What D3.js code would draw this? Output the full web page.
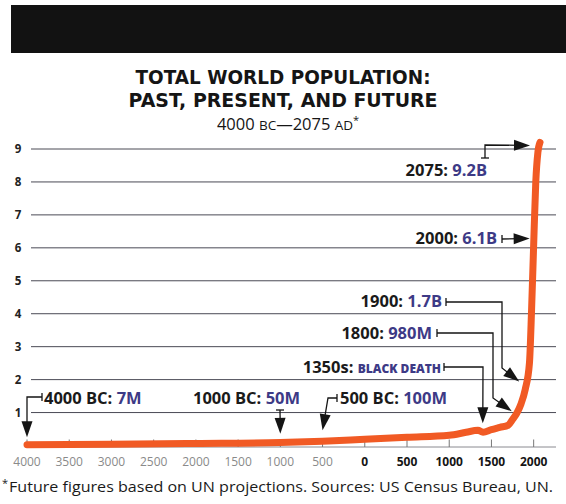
<!DOCTYPE html>
<html>
<head>
<meta charset="utf-8">
<script src="https://cdn.jsdelivr.net/npm/d3@7"></script>
<style>
  body { margin: 0; background: #fff; }
  svg { display: block; font-family: "Open Sans", "Noto Sans", sans-serif; }
</style>
</head>
<body>
<script>
var years  = [-4000, -3000, -2000, -1000, -500, 0, 500, 1000, 1200, 1340, 1400, 1500, 1600, 1700, 1750, 1800, 1850, 1900, 1950, 1975, 2000, 2025, 2050, 2075];
var pop    = [0.02, 0.035, 0.06, 0.09, 0.13, 0.19, 0.25, 0.31, 0.4, 0.46, 0.4, 0.48, 0.55, 0.62, 0.79, 0.98, 1.26, 1.7, 2.5, 4.1, 6.1, 8.0, 8.9, 9.2];

var yTicks = [1, 2, 3, 4, 5, 6, 7, 8, 9];
var xTicks = [-4000, -3500, -3000, -2500, -2000, -1500, -1000, -500, 0, 500, 1000, 1500, 2000];

// callouts
var noteYears  = [-4000, -1000, -500, 1350, 1800, 1900, 2000, 2075];
var notePop    = [0.007, 0.05, 0.1, 0.4, 0.98, 1.7, 6.1, 9.2];
var noteLabels = ["4000 BC:", "1000 BC:", "500 BC:", "1350s:", "1800:", "1900:", "2000:", "2075:"];
var noteValues = ["7M", "50M", "100M", "BLACK DEATH", "980M", "1.7B", "6.1B", "9.2B"];

var width = 566, height = 504;
var orange = "#f15a24", purple = "#3d3a86";

var svg = d3.select("body").append("svg")
    .attr("width", width)
    .attr("height", height);

// black band at the top
svg.append("rect")
   .attr("x", 11).attr("y", 5)
   .attr("width", width - 11).attr("height", 48)
   .attr("fill", "#121212");

// titles
svg.append("text")
   .attr("x", 283).attr("y", 84)
   .attr("text-anchor", "middle")
   .attr("font-family", "DejaVu Sans")
   .attr("font-size", 19).attr("font-weight", 700)
   .attr("fill", "#151515")
   .attr("textLength", 295).attr("lengthAdjust", "spacingAndGlyphs")
   .text("TOTAL WORLD POPULATION:");
svg.append("text")
   .attr("x", 283).attr("y", 107)
   .attr("text-anchor", "middle")
   .attr("font-family", "DejaVu Sans")
   .attr("font-size", 19).attr("font-weight", 700)
   .attr("fill", "#151515")
   .attr("textLength", 309).attr("lengthAdjust", "spacingAndGlyphs")
   .text("PAST, PRESENT, AND FUTURE");

var sub = svg.append("text")
   .attr("x", 288).attr("y", 130)
   .attr("text-anchor", "middle")
   .attr("font-size", 16.5).attr("font-weight", 400)
   .attr("fill", "#151515");
sub.append("tspan").text("4000 ");
sub.append("tspan").attr("font-size", 13.5).text("BC");
sub.append("tspan").text("\u20142075 ");
sub.append("tspan").attr("font-size", 13.5).text("AD");
sub.append("tspan").attr("font-size", 11).attr("dy", -6).text("*");

// scales
var x = d3.scaleLinear().domain([-4000, 2075]).range([27, 540]);
var y = d3.scaleLinear().domain([0, 9]).range([445.5, 149]);

// gridlines + y labels
svg.selectAll(".grid")
   .data(yTicks)
   .enter().append("line")
   .attr("x1", 31).attr("x2", 556)
   .attr("y1", function(d) { return y(d); })
   .attr("y2", function(d) { return y(d); })
   .attr("stroke", "#4a4a55").attr("stroke-width", 1);

svg.selectAll(".ylab")
   .data(yTicks)
   .enter().append("text")
   .attr("x", 18)
   .attr("y", function(d) { return y(d) + 4; })
   .attr("text-anchor", "middle")
   .attr("font-size", 11.5).attr("font-weight", 700)
   .attr("fill", "#222")
   .text(function(d) { return d; });

// base line and x ticks
svg.append("line")
   .attr("x1", 27).attr("x2", 556)
   .attr("y1", y(0) + 1.5).attr("y2", y(0) + 1.5)
   .attr("stroke", "#8a8a90").attr("stroke-width", 1);

svg.selectAll(".xtick")
   .data(xTicks)
   .enter().append("line")
   .attr("x1", function(d) { return x(d); })
   .attr("x2", function(d) { return x(d); })
   .attr("y1", y(0) - 6).attr("y2", y(0) + 1.5)
   .attr("stroke", "#777").attr("stroke-width", 1);

svg.selectAll(".xlab")
   .data(xTicks)
   .enter().append("text")
   .attr("x", function(d) { return x(d); })
   .attr("y", 466)
   .attr("text-anchor", "middle")
   .attr("font-size", 12)
   .attr("font-weight", function(d) { return d < 0 ? 400 : 700; })
   .attr("fill", function(d) { return d < 0 ? "#8a8a8a" : "#151515"; })
   .text(function(d) { return Math.abs(d); });

// population line
var line = d3.line()
    .x(function(d, i) { return x(years[i]); })
    .y(function(d) { return y(d); })
    .curve(d3.curveMonotoneX);

svg.append("path")
   .datum(pop)
   .attr("d", line)
   .attr("fill", "none")
   .attr("stroke", orange)
   .attr("stroke-width", 7)
   .attr("stroke-linecap", "round")
   .attr("stroke-linejoin", "round");

// callout layout: text position, anchor, connector route, arrow tip offset
var layout = [
  { tx: 44,  ty: 404, anchor: "start", route: [[42, 397], [27, 397]], cap: "v", tip: [0, -8] },
  { tx: 193, ty: 404, anchor: "start", route: [[280, 410]],           cap: "h", tip: [0, -10] },
  { tx: 340, ty: 404, anchor: "start", route: [[337, 398], [328, 398]], cap: "v", tip: [0, -12] },
  { tx: 441, ty: 373, anchor: "end",   route: [[444, 367], [483, 367]], cap: "v", tip: [4, -9] },
  { tx: 432, ty: 339, anchor: "end",   route: [[437, 333], [493, 333], [493, 398]], cap: "v", tip: [-5, -2] },
  { tx: 442, ty: 307, anchor: "end",   route: [[446, 302], [502, 302], [502, 368]], cap: "v", tip: [-6, -8] },
  { tx: 497, ty: 244, anchor: "end",   route: [[502, 239]],               cap: "v", tip: [-4, -6] },
  { tx: 487, ty: 176, anchor: "end",   route: [[485, 158], [485, 145]], cap: "h", tip: [-10, 3] }
];

function arrowHead(tip, from) {
  var ang = Math.atan2(tip[1] - from[1], tip[0] - from[0]);
  var len = 16, half = 5.5;
  var bx = tip[0] - len * Math.cos(ang), by = tip[1] - len * Math.sin(ang);
  var px = -Math.sin(ang) * half, py = Math.cos(ang) * half;
  return "M" + tip[0] + "," + tip[1] +
         "L" + (bx + px) + "," + (by + py) +
         "L" + (bx - px) + "," + (by - py) + "Z";
}

noteYears.forEach(function(yr, i) {
  var L = layout[i];
  var tip = [x(yr) + L.tip[0], y(notePop[i]) + L.tip[1]];
  var pts = L.route.concat([tip]);

  // shorten the last segment so the line ends inside the head
  var last = pts[pts.length - 2];
  var ang = Math.atan2(tip[1] - last[1], tip[0] - last[0]);
  var linePts = pts.slice(0, -1).concat([[tip[0] - 10 * Math.cos(ang), tip[1] - 10 * Math.sin(ang)]]);

  svg.append("path")
     .attr("d", d3.line()(linePts))
     .attr("fill", "none")
     .attr("stroke", "#151515")
     .attr("stroke-width", 1.3);

  // small end bar at the start of the connector
  var s = pts[0];
  if (L.cap === "v") {
    svg.append("line").attr("x1", s[0]).attr("x2", s[0])
       .attr("y1", s[1] - 4).attr("y2", s[1] + 4)
       .attr("stroke", "#151515").attr("stroke-width", 1.3);
  } else {
    svg.append("line").attr("x1", s[0] - 4).attr("x2", s[0] + 4)
       .attr("y1", s[1]).attr("y2", s[1])
       .attr("stroke", "#151515").attr("stroke-width", 1.3);
  }

  svg.append("path")
     .attr("d", arrowHead(tip, last))
     .attr("fill", "#151515");

  var t = svg.append("text")
     .attr("x", L.tx).attr("y", L.ty)
     .attr("text-anchor", L.anchor)
     .attr("font-size", 16.5).attr("font-weight", 700)
     .attr("fill", "#1a1a1a");
  t.append("tspan").text(noteLabels[i] + " ");
  var v = t.append("tspan").attr("fill", purple).text(noteValues[i]);
  if (noteValues[i] === "BLACK DEATH") {
    v.attr("font-size", 12).attr("font-weight", 800);
  }
});

// footnote
var foot = svg.append("text")
   .attr("fill", "#1a1a1a");
foot.append("tspan")
   .attr("x", 2).attr("y", 487)
   .attr("font-size", 11)
   .text("*");
foot.append("tspan")
   .attr("x", 9).attr("y", 492)
   .attr("font-size", 15)
   .attr("textLength", 544).attr("lengthAdjust", "spacingAndGlyphs")
   .text("Future figures based on UN projections. Sources: US Census Bureau, UN.");
</script>
</body>
</html>
